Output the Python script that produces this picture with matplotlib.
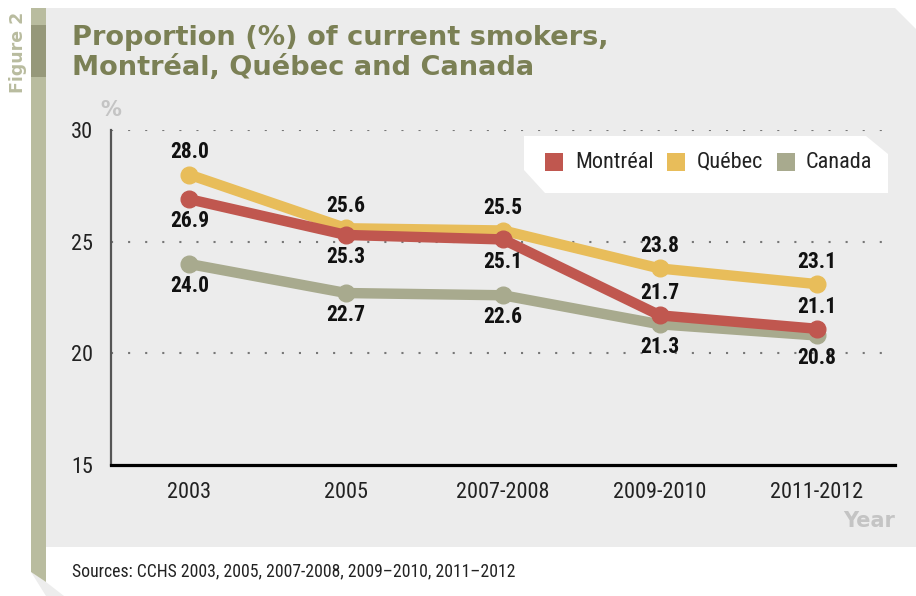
import matplotlib.pyplot as plt
from matplotlib import font_manager
from matplotlib.patches import Polygon, Rectangle

periods = ["2003", "2005", "2007-2008", "2009-2010", "2011-2012"]
montreal = [26.9, 25.3, 25.1, 21.7, 21.1]
quebec = [28.0, 25.6, 25.5, 23.8, 23.1]
canada = [24.0, 22.7, 22.6, 21.3, 20.8]

# label placement per point: +1 above the marker, -1 below
montreal_side = [-1, -1, -1, 1, 1]
quebec_side = [1, 1, 1, 1, 1]
canada_side = [-1, -1, -1, -1, -1]

c_mtl = "#C0574F"
c_qc = "#E8BD5A"
c_can = "#A8AA8E"
olive = "#7B8055"
strip = "#B9BC9F"

# pick a narrow face for the labels if one is around
names = {f.name for f in font_manager.fontManager.ttflist}
condensed = {f.name for f in font_manager.fontManager.ttflist
             if str(f.stretch) in ("condensed", "semi-condensed", "extra-condensed", "75", "87")}
narrow_name = "DejaVu Sans"
for cand in ["Liberation Sans Narrow", "Roboto Condensed", "Open Sans Condensed",
             "DejaVu Sans Condensed", "Noto Sans Condensed"]:
    if cand in names:
        narrow_name = cand
        break
else:
    for cand in ["Roboto", "Open Sans", "Noto Sans", "DejaVu Sans"]:
        if cand in condensed:
            narrow_name = cand
            break
narrow = [narrow_name, "DejaVu Sans"]
NARROW = dict(family=narrow, stretch="condensed")
HEAD = dict(family="DejaVu Sans", fontweight="bold")

W, H = 916, 596
fig = plt.figure(figsize=(W / 100, H / 100), dpi=100)


def fp(x, y):
    # pixel position -> figure fraction
    return (x / W, 1 - y / H)


def add_poly(pts, color, z=-1):
    fig.patches.append(Polygon([fp(*p) for p in pts], closed=True, transform=fig.transFigure,
                               facecolor=color, edgecolor="none", zorder=z))


# background panel and side strip
add_poly([(46, 8), (895, 8), (916, 29), (916, 547), (46, 547)], "#ECECEC")
add_poly([(31, 572), (46, 582), (64, 596), (46, 596)], "#EDEDED")
add_poly([(31, 8), (46, 8), (46, 582), (31, 572)], strip)
add_poly([(31, 25), (46, 25), (46, 77), (31, 77)], "#96987A")

fig.text(*fp(18, 52), "Figure 2", rotation=90, ha="center", va="center",
         color=strip, fontsize=12.5, **HEAD)
fig.text(*fp(72, 38), "Proportion (%) of current smokers,", ha="left", va="center",
         color=olive, fontsize=19.6, **HEAD)
fig.text(*fp(72, 68), "Montréal, Québec and Canada", ha="left", va="center",
         color=olive, fontsize=19.6, **HEAD)

ax = fig.add_axes([111 / W, 1 - 465 / H, (895 - 111) / W, (465 - 130) / H])
ax.set_zorder(1)
ax.set_facecolor("none")
ax.set_xlim(-0.5, 4.5)
ax.set_ylim(15, 30)

for y in [20, 25, 30]:
    ax.axhline(y, color="#777777", lw=1.5, ls=(0, (1, 7.2)), zorder=1)

x = range(len(periods))
for vals, col, side in [(canada, c_can, canada_side),
                        (quebec, c_qc, quebec_side),
                        (montreal, c_mtl, montreal_side)]:
    ax.plot(x, vals, color=col, lw=7.5, marker="o", markersize=12,
            solid_capstyle="round", zorder=3, clip_on=False)
    for xi, v, s in zip(x, vals, side):
        ax.annotate(f"{v:.1f}", (xi, v), xytext=(0, 16 * s), textcoords="offset points",
                    ha="center", va="center", fontsize=15.5, fontweight="bold",
                    color="#111111", zorder=5, **NARROW)

ax.set_xticks(list(x))
ax.set_xticklabels(periods, fontsize=16, color="#222222", **NARROW)
ax.set_yticks([15, 20, 25, 30])
ax.set_yticklabels(["15", "20", "25", "30"], fontsize=16, color="#222222", **NARROW)
ax.tick_params(length=0)
ax.tick_params(axis="x", pad=12)
ax.tick_params(axis="y", pad=13)

for s in ["top", "right"]:
    ax.spines[s].set_visible(False)
ax.spines["left"].set_color("#555555")
ax.spines["left"].set_linewidth(1.6)
ax.spines["bottom"].set_color("black")
ax.spines["bottom"].set_linewidth(2.3)

fig.text(*fp(111, 110), "%", ha="center", va="center", color="#C4C4C4",
         fontsize=15, **HEAD)
fig.text(*fp(895, 521), "Year", ha="right", va="center", color="#C4C4C4",
         fontsize=15, **HEAD)

# legend box with clipped corners, drawn above the plot area
add_poly([(524, 136), (866, 136), (888, 154), (888, 193), (545, 193), (524, 170)], "white", z=2)
for sx, tx, lab, col in [(545, 575, "Montréal", c_mtl),
                         (667, 697, "Québec", c_qc),
                         (777, 806, "Canada", c_can)]:
    fig.patches.append(Rectangle(fp(sx, 171), 18 / W, 18 / H, transform=fig.transFigure,
                                 facecolor=col, edgecolor="none", zorder=3))
    fig.text(*fp(tx, 162), lab, ha="left", va="center", fontsize=16,
             color="#222222", zorder=4, **NARROW)

fig.text(*fp(72, 571), "Sources: CCHS 2003, 2005, 2007-2008, 2009–2010, 2011–2012",
         ha="left", va="center", fontsize=12.7, color="#222222", **NARROW)

fig.savefig("out.png", dpi=100)
